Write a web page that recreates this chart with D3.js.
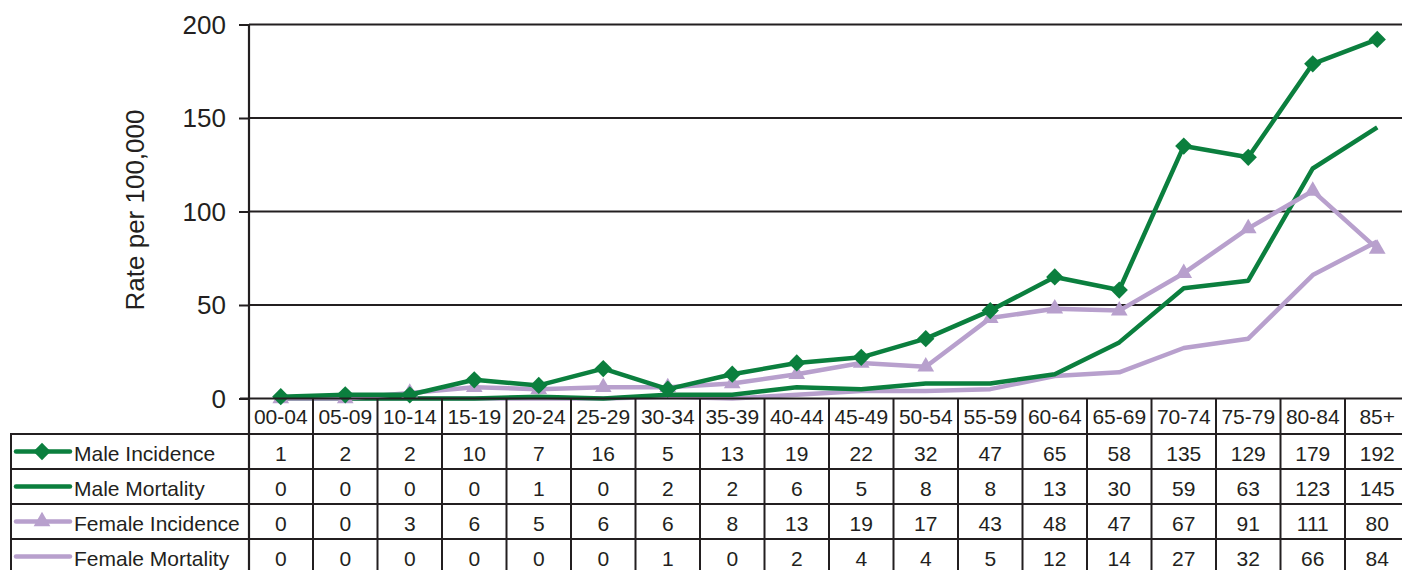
<!DOCTYPE html>
<html><head><meta charset="utf-8">
<script src="https://cdn.jsdelivr.net/npm/d3@7"></script>
<style>body{margin:0;background:#fff}svg{display:block}text{font-family:"Liberation Sans",Arial,sans-serif;fill:#231f20}</style>
</head><body><svg id="c" width="1402" height="570"></svg>
<script>
const categories=["00-04","05-09","10-14","15-19","20-24","25-29","30-34","35-39","40-44","45-49","50-54","55-59","60-64","65-69","70-74","75-79","80-84","85+"];
const maleIncidence=[1,2,2,10,7,16,5,13,19,22,32,47,65,58,135,129,179,192];
const maleMortality=[0,0,0,0,1,0,2,2,6,5,8,8,13,30,59,63,123,145];
const femaleIncidence=[0,0,3,6,5,6,6,8,13,19,17,43,48,47,67,91,111,80];
const femaleMortality=[0,0,0,0,0,0,1,0,2,4,4,5,12,14,27,32,66,84];
const yTicks=[0,50,100,150,200];
const seriesNames=["Male Incidence","Male Mortality","Female Incidence","Female Mortality"];

const GREEN="#0b7f3e",PURPLE="#b8a0cd",INK="#231f20";
const series=[
 {name:seriesNames[0],values:maleIncidence,color:GREEN,marker:"diamond"},
 {name:seriesNames[1],values:maleMortality,color:GREEN,marker:null},
 {name:seriesNames[2],values:femaleIncidence,color:PURPLE,marker:"triangle"},
 {name:seriesNames[3],values:femaleMortality,color:PURPLE,marker:null}
];
const svg=d3.select("#c");
const x=d3.scaleBand().domain(categories).range([248.5,1409.5]);
const y=d3.scaleLinear().domain([0,200]).range([398.5,24.5]);

// gridlines
svg.append("g").selectAll("line").data(yTicks.filter(d=>d>0)).join("line")
 .attr("x1",249).attr("x2",1402).attr("y1",d=>y(d)).attr("y2",d=>y(d))
 .attr("stroke",INK).attr("stroke-width",2);
// y axis
const ya=svg.append("g").attr("transform","translate(249,0)")
 .call(d3.axisLeft(y).tickValues(yTicks).tickSize(10).tickPadding(13).tickFormat(d3.format("d")));
ya.select(".domain").remove();
ya.selectAll("line").attr("stroke",INK).attr("stroke-width",2);
ya.selectAll("text").attr("font-size",26).style("font-family","Liberation Sans, Arial, sans-serif").attr("fill",INK).attr("dy","0.34em");
svg.append("line").attr("x1",249).attr("x2",249).attr("y1",24).attr("y2",570).attr("stroke",INK).attr("stroke-width",2.2);
svg.append("text").attr("transform","translate(144,210) rotate(-90)").attr("text-anchor","middle")
 .attr("font-size",26).text("Rate per 100,000");

// lines
const line=d3.line().x((d,i)=>x(categories[i])+x.bandwidth()/2).y(d=>y(d));
const sym={diamond:d3.symbol().type(d3.symbolDiamond2).size(190),triangle:d3.symbol().type(d3.symbolTriangle2).size(200)};
const drawOrder=[3,1,2,0];
drawOrder.forEach(k=>{
 const s=series[k];
 svg.append("path").attr("d",line(s.values)).attr("fill","none").attr("stroke",s.color).attr("stroke-width",4.5).attr("stroke-linejoin","round");
 if(s.marker){
  svg.append("g").selectAll("path").data(s.values).join("path")
   .attr("transform",(d,i)=>`translate(${x(categories[i])+x.bandwidth()/2},${y(d)})`)
   .attr("d",sym[s.marker]()).attr("fill",s.color);
 }
});

// axis line at 0
svg.append("line").attr("x1",240).attr("x2",1402).attr("y1",y(0)).attr("y2",y(0)).attr("stroke",INK).attr("stroke-width",2.2);

// table
const rowTop=[434,469,504,539,574];
const tg=svg.append("g");
rowTop.slice(0,4).forEach(yy=>tg.append("line").attr("x1",10).attr("x2",1402).attr("y1",yy).attr("y2",yy).attr("stroke",INK).attr("stroke-width",2));
tg.append("line").attr("x1",11).attr("x2",11).attr("y1",434).attr("y2",570).attr("stroke",INK).attr("stroke-width",2);
categories.forEach(c=>{
 tg.append("line").attr("x1",x(c)+x.bandwidth()).attr("x2",x(c)+x.bandwidth()).attr("y1",398).attr("y2",570).attr("stroke",INK).attr("stroke-width",2);
});
tg.selectAll("text.h").data(categories).join("text").attr("class","h")
 .attr("x",c=>x(c)+x.bandwidth()/2).attr("y",424).attr("text-anchor","middle").attr("font-size",21).text(c=>c);
series.forEach((s,r)=>{
 const yy=rowTop[r]+27;
 tg.append("g").selectAll("text").data(s.values).join("text")
  .attr("x",(d,i)=>x(categories[i])+x.bandwidth()/2).attr("y",yy).attr("text-anchor","middle").attr("font-size",21).text(d=>d);
 const cy=rowTop[r]+17.5;
 tg.append("line").attr("x1",16).attr("x2",70).attr("y1",cy).attr("y2",cy).attr("stroke",s.color).attr("stroke-width",4.5).attr("stroke-linecap","round");
 if(s.marker) tg.append("path").attr("transform",`translate(42,${cy})`).attr("d",sym[s.marker]()).attr("fill",s.color);
 tg.append("text").attr("x",74).attr("y",yy).attr("font-size",21).text(s.name);
});
</script></body></html>
